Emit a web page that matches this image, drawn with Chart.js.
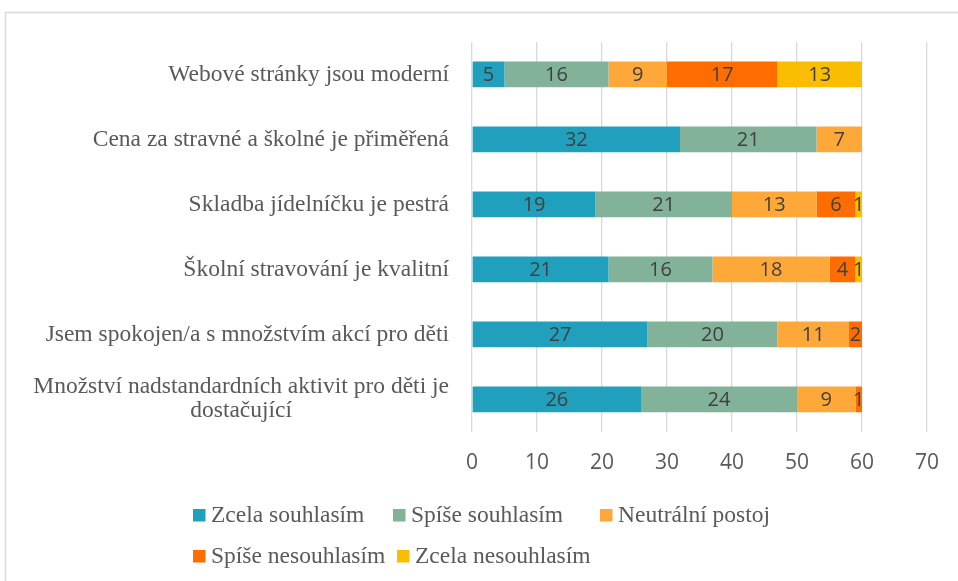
<!DOCTYPE html>
<html lang="cs">
<head>
  <meta charset="UTF-8" />
  <title>Spokojenost rodičů</title>
  <script src="https://cdn.jsdelivr.net/npm/chart.js"></script>
  <style>
    html, body { margin: 0; padding: 0; background: #fff; }
    #wrap { width: 958px; height: 581px; position: relative; }
  </style>
</head>
<body>
  <div id="wrap">
    <canvas id="likert" width="958" height="581"></canvas>
  </div>

  <script>
    const categories = [
      'Webové stránky jsou moderní',
      'Cena za stravné a školné je přiměřená',
      'Skladba jídelníčku je pestrá',
      'Školní stravování je kvalitní',
      'Jsem spokojen/a s množstvím akcí pro děti',
      ['Množství nadstandardních aktivit pro děti je', 'dostačující']
    ];

    const seriesNames = ['Zcela souhlasím', 'Spíše souhlasím', 'Neutrální postoj', 'Spíše nesouhlasím', 'Zcela nesouhlasím'];
    const seriesColors = ['#21a0bd', '#82b29a', '#ffa83a', '#ff6d01', '#fbbd02'];

    const zcelaSouhlasim   = [5, 32, 19, 21, 27, 26];
    const spiseSouhlasim   = [16, 21, 21, 16, 20, 24];
    const neutralniPostoj  = [9, 7, 13, 18, 11, 9];
    const spiseNesouhlasim = [17, 0, 6, 4, 2, 1];
    const zcelaNesouhlasim = [13, 0, 1, 1, 0, 0];

    const xTicks = [0, 10, 20, 30, 40, 50, 60, 70];

    const seriesValues = [zcelaSouhlasim, spiseSouhlasim, neutralniPostoj, spiseNesouhlasim, zcelaNesouhlasim];

    const SERIF = '"Liberation Serif", "Times New Roman", serif';
    const SANS = '"Open Sans", "Liberation Sans", sans-serif';

    // frame, value labels, category labels and legend drawn by hand
    const excelLook = {
      id: 'excelLook',
      beforeDraw(chart) {
        const ctx = chart.ctx;
        ctx.save();
        ctx.strokeStyle = '#d9d9d9';
        ctx.lineWidth = 1.5;
        ctx.strokeRect(5.5, 12.5, 1100, 1100);
        ctx.restore();
      },
      afterDatasetsDraw(chart) {
        const ctx = chart.ctx;
        ctx.save();
        ctx.font = '20px ' + SANS;
        ctx.fillStyle = '#404040';
        ctx.textAlign = 'center';
        ctx.textBaseline = 'middle';
        chart.data.datasets.forEach((ds, di) => {
          const meta = chart.getDatasetMeta(di);
          meta.data.forEach((bar, i) => {
            const v = ds.data[i];
            if (!v) return;
            const cx = (bar.x + bar.base) / 2;
            ctx.fillText(String(v), cx, bar.y + 1);
          });
        });
        ctx.restore();
      },
      afterDraw(chart) {
        const ctx = chart.ctx;
        const yScale = chart.scales.y;
        const right = chart.chartArea.left - 23;
        ctx.save();
        ctx.font = '23.5px ' + SERIF;
        ctx.fillStyle = '#595959';
        ctx.textBaseline = 'middle';
        categories.forEach((lab, i) => {
          const y = yScale.getPixelForValue(i);
          if (Array.isArray(lab)) {
            const w = Math.max(...lab.map(l => ctx.measureText(l).width));
            const cx = right - w / 2;
            ctx.textAlign = 'center';
            const lh = 24;
            lab.forEach((line, k) => {
              ctx.fillText(line, cx, y + (k - (lab.length - 1) / 2) * lh);
            });
          } else {
            ctx.textAlign = 'right';
            ctx.fillText(lab, right, y);
          }
        });

        // legend, two rows like the Excel original
        const rows = [
          { y: 515, items: [[0, 193], [1, 393], [2, 600]] },
          { y: 556, items: [[3, 193], [4, 397]] }
        ];
        ctx.textAlign = 'left';
        rows.forEach(row => {
          row.items.forEach(([idx, x]) => {
            ctx.fillStyle = seriesColors[idx];
            ctx.fillRect(x, row.y - 6, 12.5, 12.5);
            ctx.fillStyle = '#595959';
            ctx.fillText(seriesNames[idx], x + 18, row.y + 1);
          });
        });
        ctx.restore();
      }
    };

    const ctx = document.getElementById('likert').getContext('2d');

    new Chart(ctx, {
      type: 'bar',
      data: {
        labels: categories,
        datasets: seriesNames.map((name, i) => ({
          label: name,
          data: seriesValues[i],
          backgroundColor: seriesColors[i],
          borderWidth: 0,
          barPercentage: 0.396,
          categoryPercentage: 1
        }))
      },
      options: {
        indexAxis: 'y',
        responsive: false,
        animation: false,
        layout: {
          padding: { left: 472, right: 29, top: 42, bottom: 86 }
        },
        scales: {
          x: {
            stacked: true,
            min: 0,
            max: 70,
            afterBuildTicks: scale => { scale.ticks = xTicks.map(v => ({ value: v })); },
            grid: { color: '#d9d9d9', lineWidth: 1.3, drawTicks: false },
            border: { display: false },
            ticks: {
              padding: 19,
              color: '#595959',
              font: { family: SANS, size: 21 }
            }
          },
          y: {
            stacked: true,
            grid: { display: false },
            border: { display: false },
            ticks: { display: false },
            afterFit: scale => { scale.width = 0; }
          }
        },
        plugins: {
          legend: { display: false },
          tooltip: { enabled: false }
        }
      },
      plugins: [excelLook]
    });
  </script>
</body>
</html>
